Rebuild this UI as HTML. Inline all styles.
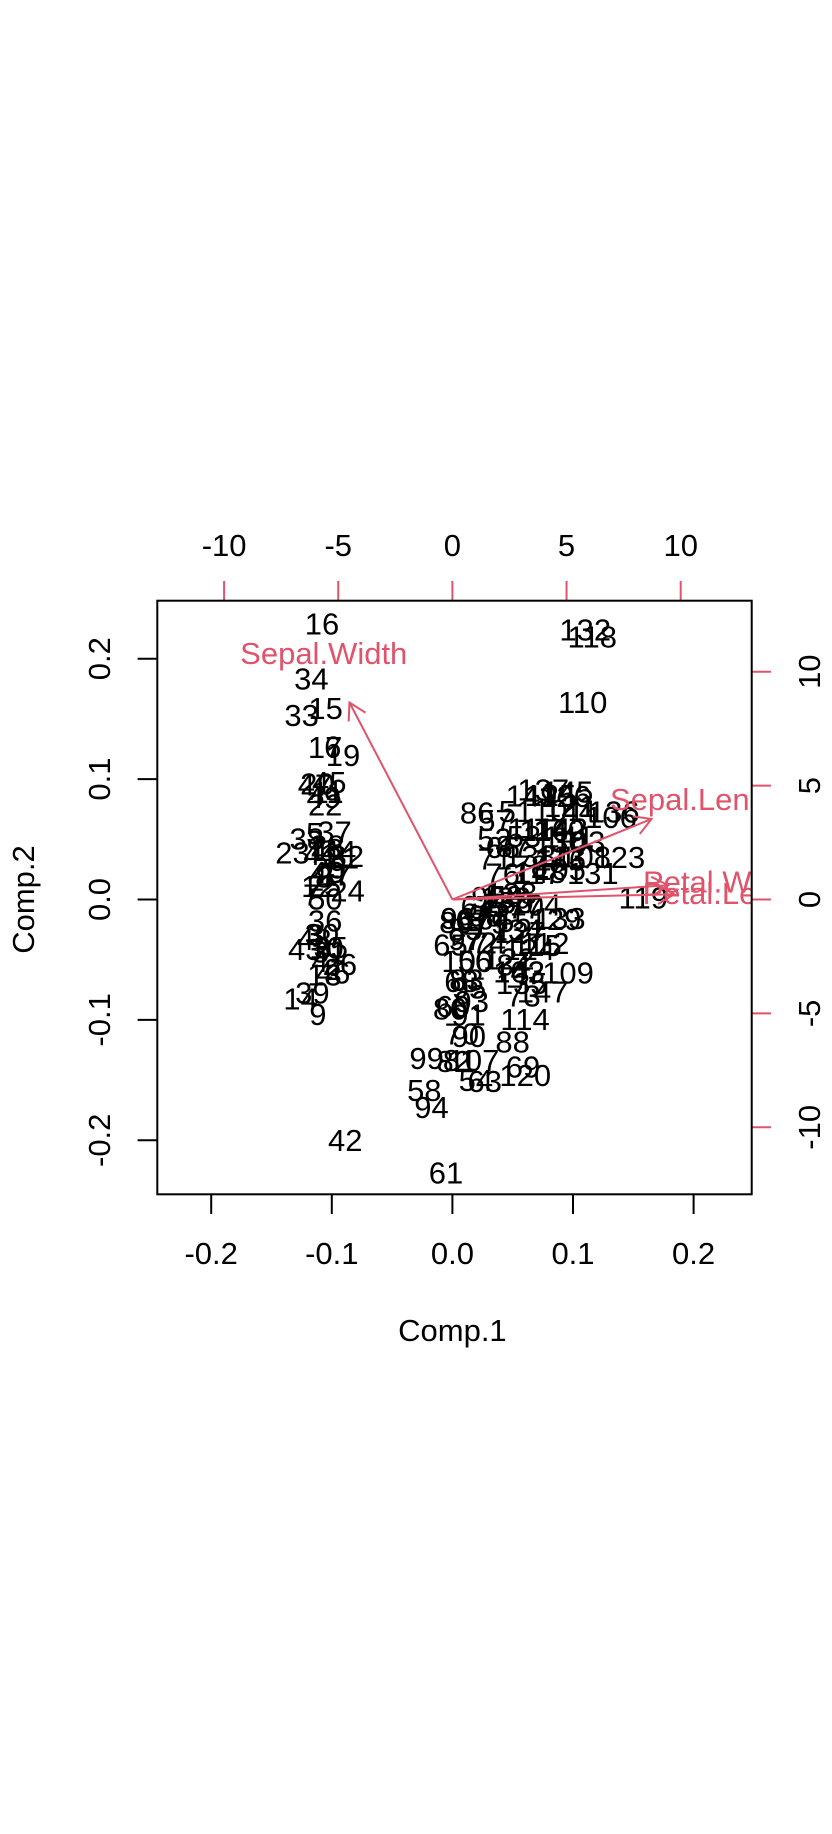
<!DOCTYPE html>
<html><head><meta charset="utf-8">
<style>
html,body{margin:0;padding:0;background:#fff;}
svg{display:block;font-family:"Liberation Sans",Arial,sans-serif;}
</style></head>
<body>
<svg id="chart" width="832" height="1834" viewBox="0 0 832 1834" xmlns="http://www.w3.org/2000/svg">
<rect x="0" y="0" width="832" height="1834" fill="#fff"/>
<defs><clipPath id="plotclip"><rect x="157.3" y="600.7" width="594.4" height="593.6"/></clipPath></defs>
<g id="axes"></g>
<g id="marks" clip-path="url(#plotclip)"></g>
<rect x="157.3" y="600.7" width="594.4" height="593.6" fill="none" stroke="#000" stroke-width="2"/>
</svg>
<script>
// iris measurements (observations 1..150)
const sepalLength=[5.1,4.9,4.7,4.6,5.0,5.4,4.6,5.0,4.4,4.9,5.4,4.8,4.8,4.3,5.8,5.7,5.4,5.1,5.7,5.1,5.4,5.1,4.6,5.1,4.8,5.0,5.0,5.2,5.2,4.7,4.8,5.4,5.2,5.5,4.9,5.0,5.5,4.9,4.4,5.1,5.0,4.5,4.4,5.0,5.1,4.8,5.1,4.6,5.3,5.0,
7.0,6.4,6.9,5.5,6.5,5.7,6.3,4.9,6.6,5.2,5.0,5.9,6.0,6.1,5.6,6.7,5.6,5.8,6.2,5.6,5.9,6.1,6.3,6.1,6.4,6.6,6.8,6.7,6.0,5.7,5.5,5.5,5.8,6.0,5.4,6.0,6.7,6.3,5.6,5.5,5.5,6.1,5.8,5.0,5.6,5.7,5.7,6.2,5.1,5.7,
6.3,5.8,7.1,6.3,6.5,7.6,4.9,7.3,6.7,7.2,6.5,6.4,6.8,5.7,5.8,6.4,6.5,7.7,7.7,6.0,6.9,5.6,7.7,6.3,6.7,7.2,6.2,6.1,6.4,7.2,7.4,7.9,6.4,6.3,6.1,7.7,6.3,6.4,6.0,6.9,6.7,6.9,5.8,6.8,6.7,6.7,6.3,6.5,6.2,5.9];
const sepalWidth=[3.5,3.0,3.2,3.1,3.6,3.9,3.4,3.4,2.9,3.1,3.7,3.4,3.0,3.0,4.0,4.4,3.9,3.5,3.8,3.8,3.4,3.7,3.6,3.3,3.4,3.0,3.4,3.5,3.4,3.2,3.1,3.4,4.1,4.2,3.1,3.2,3.5,3.6,3.0,3.4,3.5,2.3,3.2,3.5,3.8,3.0,3.8,3.2,3.7,3.3,
3.2,3.2,3.1,2.3,2.8,2.8,3.3,2.4,2.9,2.7,2.0,3.0,2.2,2.9,2.9,3.1,3.0,2.7,2.2,2.5,3.2,2.8,2.5,2.8,2.9,3.0,2.8,3.0,2.9,2.6,2.4,2.4,2.7,2.7,3.0,3.4,3.1,2.3,3.0,2.5,2.6,3.0,2.6,2.3,2.7,3.0,2.9,2.9,2.5,2.8,
3.3,2.7,3.0,2.9,3.0,3.0,2.5,2.9,2.5,3.6,3.2,2.7,3.0,2.5,2.8,3.2,3.0,3.8,2.6,2.2,3.2,2.8,2.8,2.7,3.3,3.2,2.8,3.0,2.8,3.0,2.8,3.8,2.8,2.8,2.6,3.0,3.4,3.1,3.0,3.1,3.1,3.1,2.7,3.2,3.3,3.0,2.5,3.0,3.4,3.0];
const petalLength=[1.4,1.4,1.3,1.5,1.4,1.7,1.4,1.5,1.4,1.5,1.5,1.6,1.4,1.1,1.2,1.5,1.3,1.4,1.7,1.5,1.7,1.5,1.0,1.7,1.9,1.6,1.6,1.5,1.4,1.6,1.6,1.5,1.5,1.4,1.5,1.2,1.3,1.4,1.3,1.5,1.3,1.3,1.3,1.6,1.9,1.4,1.6,1.4,1.5,1.4,
4.7,4.5,4.9,4.0,4.6,4.5,4.7,3.3,4.6,3.9,3.5,4.2,4.0,4.7,3.6,4.4,4.5,4.1,4.5,3.9,4.8,4.0,4.9,4.7,4.3,4.4,4.8,5.0,4.5,3.5,3.8,3.7,3.9,5.1,4.5,4.5,4.7,4.4,4.1,4.0,4.4,4.6,4.0,3.3,4.2,4.2,4.2,4.3,3.0,4.1,
6.0,5.1,5.9,5.6,5.8,6.6,4.5,6.3,5.8,6.1,5.1,5.3,5.5,5.0,5.1,5.3,5.5,6.7,6.9,5.0,5.7,4.9,6.7,4.9,5.7,6.0,4.8,4.9,5.6,5.8,6.1,6.4,5.6,5.1,5.6,6.1,5.6,5.5,4.8,5.4,5.6,5.1,5.1,5.9,5.7,5.2,5.0,5.2,5.4,5.1];
const petalWidth=[0.2,0.2,0.2,0.2,0.2,0.4,0.3,0.2,0.2,0.1,0.2,0.2,0.1,0.1,0.2,0.4,0.4,0.3,0.3,0.3,0.2,0.4,0.2,0.5,0.2,0.2,0.4,0.2,0.2,0.2,0.2,0.4,0.1,0.2,0.2,0.2,0.2,0.1,0.2,0.2,0.3,0.3,0.2,0.6,0.4,0.3,0.2,0.2,0.2,0.2,
1.4,1.5,1.5,1.3,1.5,1.3,1.6,1.0,1.3,1.4,1.0,1.5,1.0,1.4,1.3,1.4,1.5,1.0,1.5,1.1,1.8,1.3,1.5,1.2,1.3,1.4,1.4,1.7,1.5,1.0,1.1,1.0,1.2,1.6,1.5,1.6,1.5,1.3,1.3,1.3,1.2,1.4,1.2,1.0,1.3,1.2,1.3,1.3,1.1,1.3,
2.5,1.9,2.1,1.8,2.2,2.1,1.7,1.8,1.8,2.5,2.0,1.9,2.1,2.0,2.4,2.3,1.8,2.2,2.3,1.5,2.3,2.0,2.0,1.8,2.1,1.8,1.8,1.8,2.1,1.6,1.9,2.0,2.2,1.5,1.4,2.3,2.4,1.8,1.8,2.1,2.4,2.3,1.9,2.3,2.5,2.3,1.9,2.0,2.3,1.8];
const varNames=["Sepal.Length","Sepal.Width","Petal.Length","Petal.Width"];
const xTicks=[-0.2,-0.1,0.0,0.1,0.2];
const xTickLabels=["-0.2","-0.1","0.0","0.1","0.2"];
const yTicks=[-0.2,-0.1,0.0,0.1,0.2];
const yTickLabels=["-0.2","-0.1","0.0","0.1","0.2"];
const topTicks=[-10,-5,0,5,10];
const topTickLabels=["-10","-5","0","5","10"];
const rightTicks=[-10,-5,0,5,10];
const rightTickLabels=["-10","-5","0","5","10"];

const NS="http://www.w3.org/2000/svg";
const RED="#DF536B";
const FS=31;
// axis functions
const sx=v=>452.4+v*1206;
const sy=v=>899.5-v*1204;
const tx=u=>452.4+u*22.83;
const ry=u=>899.5-u*22.78;

function mk(tag,attrs,parent,txt){const e=document.createElementNS(NS,tag);for(const k in attrs)e.setAttribute(k,attrs[k]);if(txt!==undefined)e.textContent=txt;parent.appendChild(e);return e;}

// PCA (correlation matrix, divisor n)
const cols=[sepalLength,sepalWidth,petalLength,petalWidth];
const n=sepalLength.length;
const means=cols.map(c=>c.reduce((a,b)=>a+b,0)/n);
const sds=cols.map((c,j)=>Math.sqrt(c.reduce((a,b)=>a+(b-means[j])**2,0)/n));
const Z=[];for(let i=0;i<n;i++)Z.push(cols.map((c,j)=>(c[i]-means[j])/sds[j]));
const A=[[0,0,0,0],[0,0,0,0],[0,0,0,0],[0,0,0,0]];
for(let a=0;a<4;a++)for(let b=0;b<4;b++){let s=0;for(let i=0;i<n;i++)s+=Z[i][a]*Z[i][b];A[a][b]=s/n;}
// Jacobi eigen
const V=[[1,0,0,0],[0,1,0,0],[0,0,1,0],[0,0,0,1]];
for(let sweep=0;sweep<60;sweep++){
  for(let p=0;p<3;p++)for(let q=p+1;q<4;q++){
    if(Math.abs(A[p][q])<1e-14)continue;
    const th=(A[q][q]-A[p][p])/(2*A[p][q]);
    const t=(th>=0?1:-1)/(Math.abs(th)+Math.sqrt(th*th+1));
    const c=1/Math.sqrt(t*t+1),s=t*c;
    for(let k=0;k<4;k++){const akp=A[k][p],akq=A[k][q];A[k][p]=c*akp-s*akq;A[k][q]=s*akp+c*akq;}
    for(let k=0;k<4;k++){const apk=A[p][k],aqk=A[q][k];A[p][k]=c*apk-s*aqk;A[q][k]=s*apk+c*aqk;}
    for(let k=0;k<4;k++){const vkp=V[k][p],vkq=V[k][q];V[k][p]=c*vkp-s*vkq;V[k][q]=s*vkp+c*vkq;}
  }
}
let order=[0,1,2,3].sort((a,b)=>A[b][b]-A[a][a]);
let L1=V.map(r=>r[order[0]]),L2=V.map(r=>r[order[1]]);
if(L1[2]<0)L1=L1.map(v=>-v);
if(L2[1]<0)L2=L2.map(v=>-v);
const lam1=Math.sqrt(A[order[0]][order[0]])*Math.sqrt(n);
const lam2=Math.sqrt(A[order[1]][order[1]])*Math.sqrt(n);

const svg=document.getElementById('chart');
const axes=document.getElementById('axes');
const marks=document.getElementById('marks');

// bottom axis
xTicks.forEach((v,i)=>{
  const l=mk('line',{x1:sx(v),y1:1194.3,x2:sx(v),y2:1214,stroke:'#000','stroke-width':2},axes);
  
  
  const t=mk('text',{x:sx(v),y:1264,'text-anchor':'middle','font-size':FS,fill:'#000'},axes,xTickLabels[i]);
  
  
});
// left axis
yTicks.forEach((v,i)=>{
  const l=mk('line',{x1:157.3,y1:sy(v),x2:137.6,y2:sy(v),stroke:'#000','stroke-width':2},axes);
  
  
  const t=mk('text',{x:0,y:0,transform:`translate(110,${sy(v)}) rotate(-90)`,'text-anchor':'middle','font-size':FS,fill:'#000'},axes,yTickLabels[i]);
  
  
});
// top axis (loadings)
topTicks.forEach((u,i)=>{
  const l=mk('line',{x1:tx(u),y1:600.7,x2:tx(u),y2:581,stroke:RED,'stroke-width':2},axes);
  
  
  const t=mk('text',{x:tx(u),y:556,'text-anchor':'middle','font-size':FS,fill:'#000'},axes,topTickLabels[i]);
  
  
});
// right axis (loadings)
rightTicks.forEach((u,i)=>{
  const l=mk('line',{x1:751.7,y1:ry(u),x2:771,y2:ry(u),stroke:RED,'stroke-width':2},axes);
  
  
  const t=mk('text',{x:0,y:0,transform:`translate(820,${ry(u)}) rotate(-90)`,'text-anchor':'middle','font-size':FS,fill:'#000'},axes,rightTickLabels[i]);
  
  
});
// axis titles
const xt=mk('text',{x:452.4,y:1341,'text-anchor':'middle','font-size':FS,fill:'#000'},axes,'Comp.1');


const yt=mk('text',{x:0,y:0,transform:'translate(34,899.5) rotate(-90)','text-anchor':'middle','font-size':FS,fill:'#000'},axes,'Comp.2');



// observation labels
for(let i=0;i<n;i++){
  let s1=0,s2=0;for(let j=0;j<4;j++){s1+=Z[i][j]*L1[j];s2+=Z[i][j]*L2[j];}
  const px=sx(s1/lam1),py=sy(s2/lam2);
  const t=mk('text',{x:px,y:py+11,'text-anchor':'middle','font-size':FS,fill:'#000'},marks,String(i+1));
  
  
}
// variable arrows
for(let j=0;j<4;j++){
  const u=L1[j]*lam1,w=L2[j]*lam2;
  const x0=tx(0),y0=ry(0),x1=tx(u*0.8),y1=ry(w*0.8);
  const g=mk('g',{},marks);
  
  
  mk('line',{x1:x0,y1:y0,x2:x1,y2:y1,stroke:RED,'stroke-width':2},g);
  const ang=Math.atan2(y1-y0,x1-x0),hl=19,ha=Math.PI/6;
  mk('polyline',{points:`${x1-hl*Math.cos(ang-ha)},${y1-hl*Math.sin(ang-ha)} ${x1},${y1} ${x1-hl*Math.cos(ang+ha)},${y1-hl*Math.sin(ang+ha)}`,fill:'none',stroke:RED,'stroke-width':2},g);
  const t=mk('text',{x:tx(u),y:ry(w)+11,'text-anchor':'middle','font-size':FS,fill:RED},marks,varNames[j]);
  
  
}
</script>
</body></html>
